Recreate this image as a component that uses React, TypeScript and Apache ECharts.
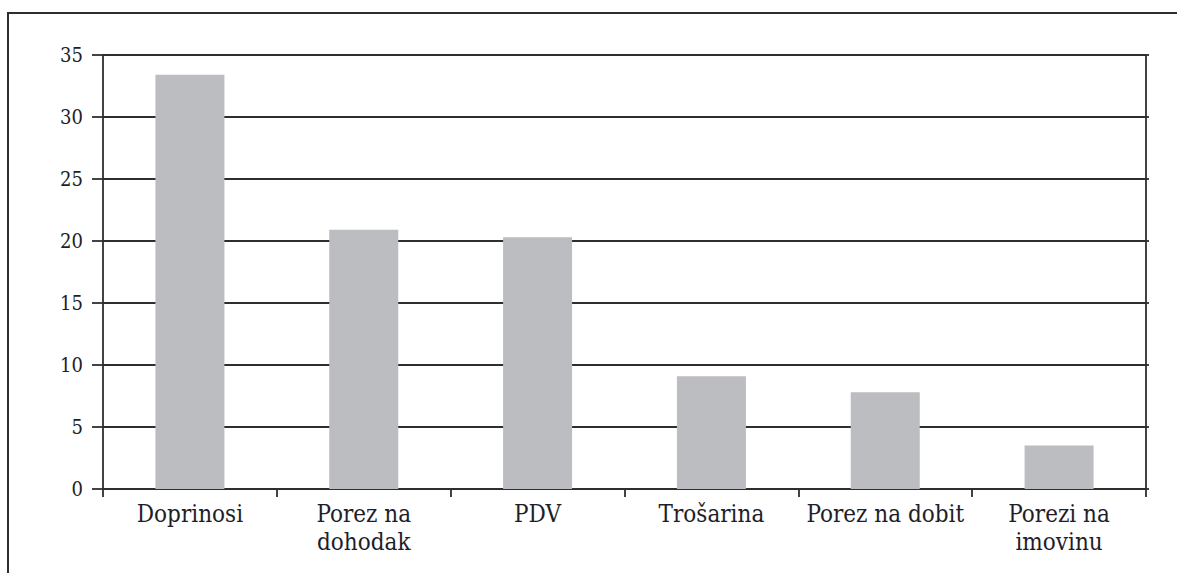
import React, { useEffect, useRef } from "react";
import * as echarts from "echarts";

const categories = ["Doprinosi", "Porez na\ndohodak", "PDV", "Trošarina", "Porez na dobit", "Porezi na\nimovinu"];
const values = [33.4, 20.9, 20.3, 9.1, 7.8, 3.5];
const yTicks = { min: 0, max: 35, interval: 5 };

const FONT = "'DejaVu Serif Condensed', 'DejaVu Serif', serif";
const LINE = "#2e2e2e";

export default function App() {
  const ref = useRef<HTMLDivElement>(null);
  useEffect(() => {
    document.body.style.margin = "0";
    const chart = echarts.init(ref.current!, null, { renderer: "svg" });
    chart.setOption({
      animation: false,
      backgroundColor: "#ffffff",
      graphic: [
        {
          type: "rect",
          shape: { x: 8, y: 13, width: 1300, height: 700 },
          style: { fill: "none", stroke: LINE, lineWidth: 2 },
          silent: true,
        },
      ],
      grid: { left: 103, right: 31, top: 55, bottom: 84, containLabel: false },
      xAxis: {
        type: "category",
        data: categories,
        boundaryGap: true,
        axisLine: { show: true, lineStyle: { color: LINE, width: 1.8 } },
        axisTick: { show: true, length: 8, lineStyle: { color: LINE, width: 1.8 } },
        axisLabel: {
          margin: 11,
          interval: 0,
          color: "#1e1e28",
          fontFamily: FONT,
          fontSize: 24,
          lineHeight: 28,
        },
      },
      yAxis: [
        {
          type: "value",
          min: yTicks.min,
          max: yTicks.max,
          interval: yTicks.interval,
          axisLine: { show: true, lineStyle: { color: LINE, width: 1.8 } },
          axisTick: { show: true, length: 11, lineStyle: { color: LINE, width: 1.8 } },
          splitLine: { show: true, lineStyle: { color: LINE, width: 1.8 } },
          axisLabel: { margin: 20, color: "#1e1e28", fontFamily: FONT, fontSize: 20 },
        },
        {
          type: "value",
          position: "right",
          min: yTicks.min,
          max: yTicks.max,
          interval: yTicks.interval,
          axisLine: { show: true, lineStyle: { color: LINE, width: 1.8 } },
          axisTick: { show: true, length: 3, lineStyle: { color: LINE, width: 1.8 } },
          splitLine: { show: false },
          axisLabel: { show: false },
        },
      ],
      series: [
        {
          type: "bar",
          data: values,
          barWidth: 69,
          itemStyle: { color: "#bcbdc0" },
        },
      ],
    });
    return () => chart.dispose();
  }, []);
  return <div ref={ref} style={{ width: 1177, height: 573 }} />;
}
